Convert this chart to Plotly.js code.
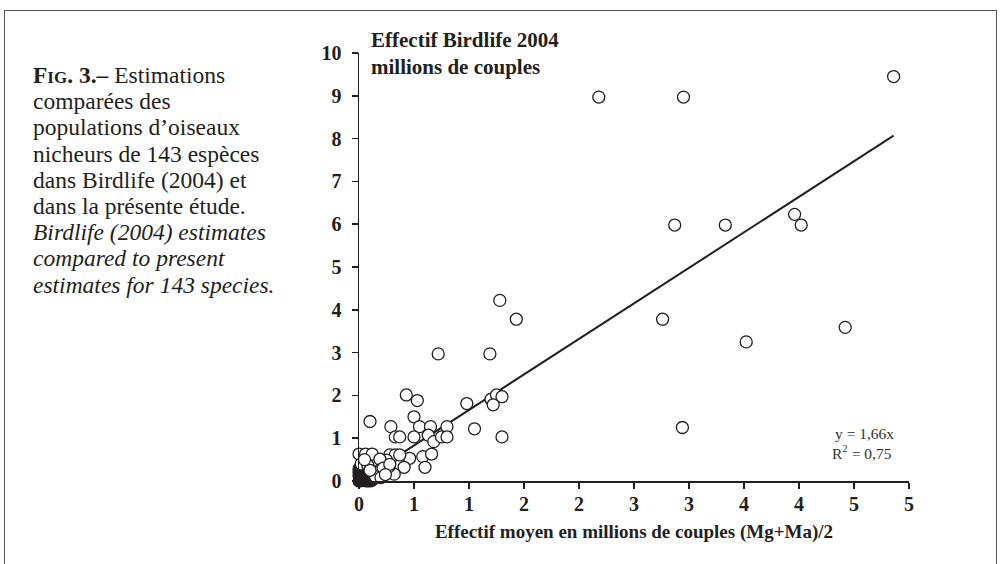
<!DOCTYPE html>
<html>
<head>
<meta charset="utf-8">
<script src="https://cdn.plot.ly/plotly-3.0.1.min.js"></script>
<style>
  html, body { margin: 0; padding: 0; background: #fff; width: 1001px; height: 564px; overflow: hidden; }
  #frame { position: absolute; left: 4px; top: 10px; width: 993px; height: 600px; border: 1.5px solid #555; box-sizing: border-box; }
  #chart { position: absolute; left: 0; top: 0; width: 1001px; height: 564px; }
</style>
</head>
<body>
<div id="frame"></div>
<div id="chart"></div>
<script>
// Open-circle points: x = mean estimate (Mg+Ma)/2, y = Birdlife 2004 (millions of pairs)
const openX = [4.86, 2.18, 2.95, 2.87, 3.33, 3.96, 4.02, 2.76, 3.52, 4.42, 2.94,
  1.28, 1.43, 0.72, 1.19, 0.43, 0.53, 0.98, 1.20, 1.25, 1.30, 1.22,
  0.10, 0.50, 0.29, 0.55, 0.65, 0.80, 1.05, 0.33, 0.37, 0.50, 0.63, 0.68, 0.75, 0.80, 1.30,
  0.58, 0.66, 0.60, 0.46, 0.41, 0.32, 0.00, 0.06, 0.12, 0.28, 0.33, 0.37, 0.25, 0.19,
  0.02, 0.08, 0.19, 0.27, 0.13, 0.18, 0.22, 0.28, 0.15, 0.20, 0.10, 0.24, 0.05];
const openY = [9.45, 8.97, 8.97, 5.98, 5.98, 6.23, 5.98, 3.78, 3.25, 3.59, 1.25,
  4.22, 3.78, 2.97, 2.97, 2.01, 1.88, 1.81, 1.91, 2.01, 1.97, 1.78,
  1.39, 1.50, 1.27, 1.27, 1.27, 1.27, 1.22, 1.03, 1.03, 1.03, 1.07, 0.92, 1.03, 1.03, 1.03,
  0.57, 0.63, 0.32, 0.53, 0.32, 0.16, 0.63, 0.63, 0.63, 0.61, 0.61, 0.61, 0.49, 0.51,
  0.40, 0.37, 0.26, 0.33, 0.18, 0.22, 0.30, 0.39, 0.10, 0.08, 0.25, 0.15, 0.50];

// Dense cluster of small species near the origin (drawn as a dark blob)
const clusterX = [0.01, 0.02, 0.04, 0.01, 0.05, 0.07, 0.02, 0.08, 0.03, 0.09,
  0.01, 0.03, 0.05, 0.08, 0.06, 0.04, 0.02, 0.06, 0.10, 0.05,
  0.01, 0.03, 0.06, 0.07, 0.02, 0.04, 0.09, 0.03, 0.06, 0.05,
  0.01, 0.02, 0.09, 0.04, 0.03, 0.00, 0.00, 0.01, 0.02, 0.03,
  0.07, 0.08, 0.02, 0.05, 0.01, 0.04, 0.11, 0.06, 0.02, 0.05,
  0.12, 0.10, 0.08, 0.11, 0.00, 0.00];
const clusterY = [0.01, 0.04, 0.06, 0.10, 0.02, 0.12, 0.15, 0.07, 0.18, 0.10,
  0.22, 0.24, 0.17, 0.13, 0.04, 0.26, 0.30, 0.20, 0.08, 0.32,
  0.05, 0.10, 0.15, 0.19, 0.08, 0.22, 0.03, 0.14, 0.25, 0.28,
  0.17, 0.02, 0.14, 0.07, 0.33, 0.00, 0.12, 0.27, 0.35, 0.01,
  0.00, 0.22, 0.19, 0.10, 0.30, 0.22, 0.05, 0.02, 0.12, 0.18,
  0.02, 0.00, 0.03, 0.12, 0.20, 0.28];

// Regression line through origin
const slope = 1.66;
const lineX = [0, 4.86];
const lineY = lineX.map(v => slope * v);

// Axis ticks: every 0.5, labels rounded to integers as in the original
const xTickVals = [0, 0.5, 1, 1.5, 2, 2.5, 3, 3.5, 4, 4.5, 5];
const xTickText = ['0', '1', '1', '2', '2', '3', '3', '4', '4', '5', '5'];
const yTickVals = [0, 1, 2, 3, 4, 5, 6, 7, 8, 9, 10];

// Caption lines
const captionLines = [
  '<b>F<span style="font-size:17px">IG</span>. 3.–</b> Estimations',
  'comparées des',
  'populations d’oiseaux',
  'nicheurs de 143 espèces',
  'dans Birdlife (2004) et',
  'dans la présente étude.',
  '<i>Birdlife (2004) estimates</i>',
  '<i>compared to present</i>',
  '<i>estimates for 143 species.</i>'
];
const yTitleLines = ['<b>Effectif Birdlife 2004</b>', '<b>millions de couples</b>'];

const ink = '#231f20';
const serif = 'Liberation Serif, Times New Roman, serif';

// plot area in pixels (for placing free text)
const PL = 359, PR = 909, PT = 53, PB = 481;
const px2x = p => (p - PL) / (PR - PL);
const px2y = p => (PB - p) / (PB - PT);

const traces = [
  { type: 'scatter', mode: 'lines', x: lineX, y: lineY,
    line: { color: ink, width: 2 }, hoverinfo: 'skip', showlegend: false, cliponaxis: false },
  { type: 'scatter', mode: 'markers', x: clusterX, y: clusterY,
    marker: { symbol: 'circle', size: 12, color: ink, line: { color: ink, width: 1.2 } },
    showlegend: false, cliponaxis: false },
  { type: 'scatter', mode: 'markers', x: openX, y: openY,
    marker: { symbol: 'circle', size: 12, color: '#ffffff', line: { color: ink, width: 1.3 } },
    showlegend: false, cliponaxis: false }
];

const tickFont = { family: serif, size: 20, color: ink, weight: 'bold' };

const annotations = [];
// x tick labels, placed on the x scale at each tick value
xTickVals.forEach((v, i) => {
  annotations.push({ xref: 'x', yref: 'paper', x: v, y: px2y(504),
    xanchor: 'center', yanchor: 'middle', showarrow: false,
    text: '<b>' + xTickText[i] + '</b>', font: tickFont });
});
captionLines.forEach((t, i) => {
  annotations.push({ xref: 'paper', yref: 'paper', x: px2x(31), y: px2y(75 + i * 26.2),
    xanchor: 'left', yanchor: 'middle', align: 'left', showarrow: false, text: t,
    font: { family: serif, size: 23.5, color: ink } });
});
yTitleLines.forEach((t, i) => {
  annotations.push({ xref: 'paper', yref: 'paper', x: px2x(369), y: px2y(40 + i * 27),
    xanchor: 'left', yanchor: 'middle', align: 'left', showarrow: false, text: t,
    font: { family: serif, size: 21, color: ink } });
});
annotations.push({ xref: 'paper', yref: 'paper', x: px2x(896), y: px2y(433),
  xanchor: 'right', yanchor: 'middle', align: 'left', showarrow: false, text: 'y = 1,66x',
  font: { family: serif, size: 15.5, color: '#333' } });
annotations.push({ xref: 'paper', yref: 'paper', x: px2x(894), y: px2y(452),
  xanchor: 'right', yanchor: 'middle', align: 'left', showarrow: false, text: 'R<sup>2</sup> = 0,75',
  font: { family: serif, size: 15.5, color: '#333' } });

const layout = {
  width: 1001, height: 564,
  paper_bgcolor: 'rgba(0,0,0,0)', plot_bgcolor: 'rgba(0,0,0,0)',
  margin: { l: PL, r: 1001 - PR, t: PT, b: 564 - PB },
  font: { family: serif, color: ink },
  xaxis: {
    range: [0, 5], tickmode: 'array', tickvals: xTickVals, showticklabels: false,
    showline: true, linecolor: ink, linewidth: 1.5, mirror: false,
    ticks: 'outside', ticklen: 6, tickwidth: 1.5, tickcolor: ink,
    showgrid: false, zeroline: false,
    title: { text: '<b>Effectif moyen en millions de couples (Mg+Ma)/2</b>',
      font: { family: serif, size: 19, color: ink }, standoff: 37 }
  },
  yaxis: {
    range: [0, 10], tickmode: 'array', tickvals: yTickVals,
    showline: true, linecolor: ink, linewidth: 1.5,
    ticks: 'outside', ticklen: 6, tickwidth: 1.5, tickcolor: ink,
    showgrid: false, zeroline: false, ticklabelstandoff: 6, tickfont: tickFont
  },
  annotations: annotations
};

Plotly.newPlot('chart', traces, layout, { displayModeBar: false, staticPlot: true });
</script>
</body>
</html>
